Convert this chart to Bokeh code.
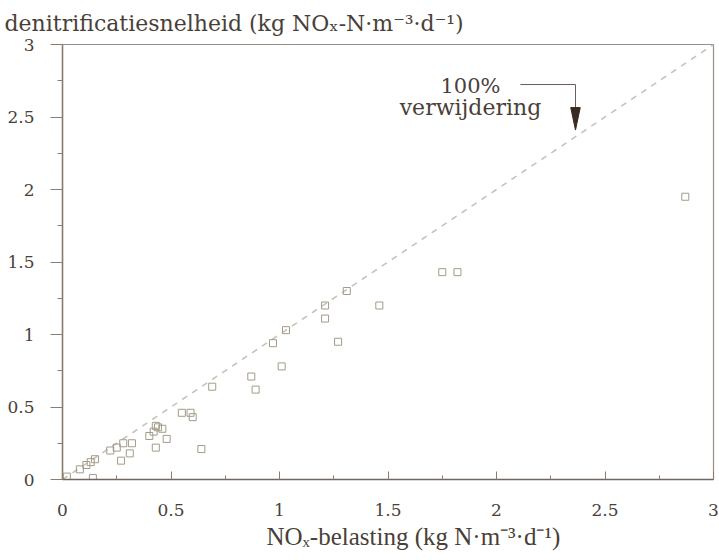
from bokeh.plotting import figure
from bokeh.models import Range1d, Title, FixedTicker, Label
from bokeh.embed import file_html
from bokeh.resources import INLINE

# data: NOx load vs denitrification rate
belasting = [0.02, 0.08, 0.11, 0.13, 0.15, 0.14, 0.22, 0.25, 0.28, 0.32, 0.31, 0.27,
             0.40, 0.42, 0.44, 0.46, 0.43, 0.48, 0.43, 0.55, 0.59, 0.60, 0.64, 0.69,
             0.87, 0.89, 0.97, 1.01, 1.03, 1.21, 1.21, 1.27, 1.31, 1.46, 1.75, 1.82, 2.87]
snelheid = [0.02, 0.07, 0.10, 0.12, 0.14, 0.01, 0.20, 0.22, 0.25, 0.25, 0.18, 0.13,
            0.30, 0.33, 0.36, 0.35, 0.22, 0.28, 0.37, 0.46, 0.46, 0.43, 0.21, 0.64,
            0.71, 0.62, 0.94, 0.78, 1.03, 1.20, 1.11, 0.95, 1.30, 1.20, 1.43, 1.43, 1.95]
ref_x = [0, 3]
ref_y = [0, 3]
ticks = [0, 0.5, 1, 1.5, 2, 2.5, 3]
minor = [0.25, 0.75, 1.25, 1.75, 2.25, 2.75]
tick_labels = {0: "0", 0.5: "0.5", 1: "1", 1.5: "1.5", 2: "2", 2.5: "2.5", 3: "3"}

TXT = "#4a3f38"
AX = "#8a7d70"

p = figure(width=719, height=560, output_backend="svg", toolbar_location=None,
           x_range=Range1d(0, 3), y_range=Range1d(0, 3),
           min_border_left=62, min_border_right=6, min_border_top=44, min_border_bottom=81)
p.add_layout(Title(text="denitrificatiesnelheid (kg NOₓ-N·m⁻³·d⁻¹)",
                   text_font="DejaVu Serif", text_font_size="22px", text_font_style="normal",
                   text_color=TXT, align="left", offset=-58, standoff=17), "above")
p.add_layout(Title(text="NOₓ-belasting (kg N·m⁻³·d⁻¹)",
                   text_font="Liberation Serif", text_font_size="25px", text_font_style="normal",
                   text_color=TXT, align="left", offset=204, standoff=4), "below")
p.grid.visible = False
p.background_fill_color = "white"
p.border_fill_color = "white"
p.outline_line_color = "#9a9088"
p.outline_line_width = 1.2

# x axis
xa = p.xaxis[0]
xa.ticker = FixedTicker(ticks=ticks, minor_ticks=minor)
xa.major_label_overrides = tick_labels
xa.major_tick_in = 8
xa.major_tick_out = 0
xa.minor_tick_in = 4
xa.minor_tick_out = 0
xa.axis_line_color = "#6f6660"
xa.axis_line_width = 1.5
xa.major_tick_line_color = AX
xa.minor_tick_line_color = AX
xa.major_label_text_font = "DejaVu Serif"
xa.major_label_text_font_size = "17px"
xa.major_label_text_color = TXT
xa.major_label_standoff = 24

ya = p.yaxis[0]
ya.ticker = FixedTicker(ticks=ticks, minor_ticks=minor)
ya.major_label_overrides = tick_labels
ya.major_tick_in = 0
ya.major_tick_out = 12
ya.minor_tick_in = 0
ya.minor_tick_out = 5
ya.axis_line_color = AX
ya.axis_line_width = 1.5
ya.major_tick_line_color = AX
ya.minor_tick_line_color = AX
ya.major_label_text_font = "DejaVu Serif"
ya.major_label_text_font_size = "17px"
ya.major_label_text_color = TXT
ya.major_label_standoff = 16

# 100% line
p.line(ref_x, ref_y, line_color="#c9c2b8", line_width=1.6, line_dash="6 6")

# data points
p.scatter(belasting, snelheid, marker="square", size=7, fill_color=None,
          line_color="#a39b8a", line_width=1.0)

# annotation
ax_x = 2.364
p.line([2.11, ax_x, ax_x], [2.724, 2.724, 2.56], line_color="#6a5f58", line_width=1)
p.patch([ax_x - 0.022, ax_x + 0.022, ax_x], [2.565, 2.565, 2.41], fill_color="#3a2a24",
        line_color="#3a2a24")
p.add_layout(Label(x=1.88, y=2.715, text="100%", text_align="center", text_baseline="middle",
                   text_font="DejaVu Serif", text_font_size="21px", text_color=TXT))
p.add_layout(Label(x=1.88, y=2.565, text="verwijdering", text_align="center",
                   text_baseline="middle", text_font="DejaVu Serif", text_font_size="22px",
                   text_color=TXT))

open("out.html", "w").write(file_html(p, INLINE))
